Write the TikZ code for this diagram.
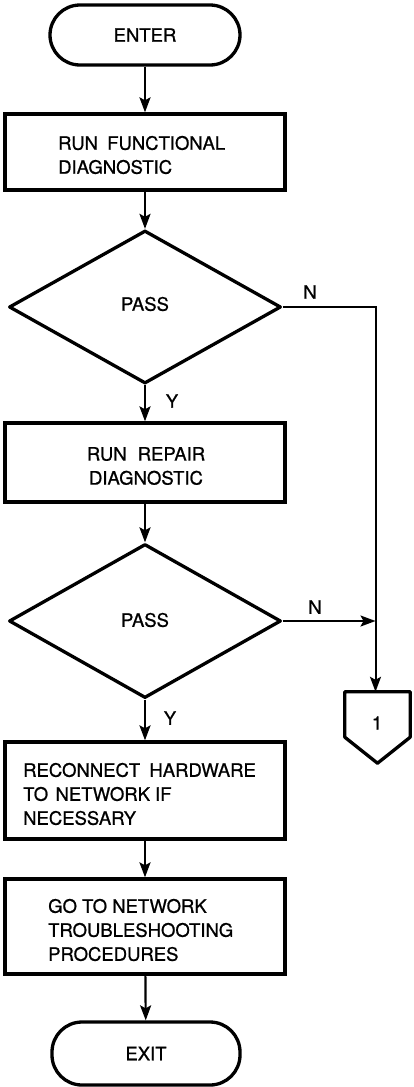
\documentclass[tikz,border=0pt]{standalone}
\usepackage{fontspec}
\setmainfont{TeX Gyre Heros}[FakeBold=0.8]
\usetikzlibrary{shapes.geometric,arrows.meta,calc}

\tikzset{
  shape line/.style={draw=black, line width=3.3pt},
  terminal/.style={shape line, rectangle, rounded corners=30pt, inner sep=0pt},
  stepbox/.style={shape line, rectangle, minimum width=280pt, inner sep=0pt},
  decision/.style={shape line, diamond, minimum width=272pt, inner sep=0pt, line join=round},
  label/.style={font=\fontsize{18.5}{24}\selectfont, inner sep=0pt, text=black},
  flow/.style={draw=black, line width=2.2pt, -{Stealth[length=15pt,width=11pt,inset=3pt]}},
  branch/.style={draw=black, line width=2pt},
}

\begin{document}
\begin{tikzpicture}[x=1pt,y=-1pt]
  \fill[white] (0,0) rectangle (413,1087);
  \path[use as bounding box] (0,0) rectangle (413,1087);

  % main column of steps
  \node[terminal, minimum width=190pt, minimum height=60pt] (enter) at (145,35) {};
  \node[label] at (enter.center) {ENTER};

  \node[stepbox, minimum height=76pt] (func) at (145,152) {};
  \node[label, anchor=west, align=left] at (58,155) {RUN\hspace{0.5em}FUNCTIONAL\\DIAGNOSTIC};

  \node[decision, minimum height=153pt] (pass1) at (145,307) {};
  \node[label] at (145,304) {PASS};

  \node[stepbox, minimum height=79pt] (repair) at (145,462.5) {};
  \node[label, align=center] at (146,466) {RUN\hspace{0.6em}REPAIR\\DIAGNOSTIC};

  \node[decision, minimum height=154pt] (pass2) at (145,621) {};
  \node[label] at (145,620) {PASS};

  \node[stepbox, minimum height=97pt] (reconnect) at (145,790.5) {};
  \node[label, anchor=west, align=left] at (23,794) {RECONNECT\hspace{0.5em}HARDWARE\\TO\hspace{0.4em}NETWORK IF\\NECESSARY};

  \node[stepbox, minimum height=95pt] (netproc) at (145,926.5) {};
  \node[label, anchor=west, align=left] at (48,930) {GO TO NETWORK\\TROUBLESHOOTING\\PROCEDURES};

  \node[terminal, minimum width=188pt, minimum height=63pt] (exit) at (146,1053.5) {};
  \node[label] at (exit.center) {EXIT};

  % off-page connector
  \node[minimum width=65pt, minimum height=45pt, inner sep=0pt] (conn) at (377.5,714.5) {};
  \draw[shape line, line join=round] (conn.north west) -- (conn.north east) -- (conn.south east)
    -- ($(conn.south)+(0,26)$) -- (conn.south west) -- cycle;
  \node[label] at (377,723) {1};

  % connectors
  \draw[flow] (enter) -- (func);
  \draw[flow] (func) -- (pass1);
  \draw[flow] (pass1) -- (repair);
  \draw[flow] (repair) -- (pass2);
  \draw[flow] (pass2) -- (reconnect);
  \draw[flow] (reconnect) -- (netproc);
  \draw[flow] (netproc) -- (exit);

  \coordinate (join) at (375.5,621);
  \draw[branch] (pass1.east) -- (pass1.east -| join) -- (join);
  \draw[flow, line width=2pt] (join) -- (join |- conn.north);
  \draw[flow, line width=2pt] (pass2.east) -- (join);

  % branch labels
  \node[label] at (310,292) {N};
  \node[label] at (315,607) {N};
  \node[label] at (172,401) {Y};
  \node[label] at (170,718) {Y};
\end{tikzpicture}
\end{document}
